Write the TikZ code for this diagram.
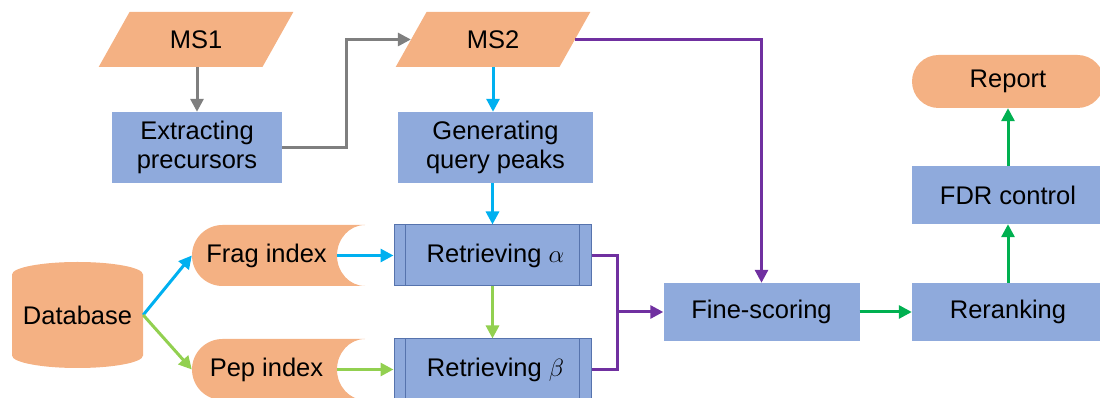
\documentclass[tikz,border=0pt]{standalone}
\usepackage{fontspec}
\setmainfont{Liberation Sans}
\usetikzlibrary{arrows.meta,shapes.geometric}
\definecolor{peach}{HTML}{F4B183}
\definecolor{boxblue}{HTML}{8FAADC}
\definecolor{edgeblue}{HTML}{5673AD}
\definecolor{cgrey}{HTML}{7F7F7F}
\definecolor{ccyan}{HTML}{00B0F0}
\definecolor{clime}{HTML}{92D050}
\definecolor{cgreen}{HTML}{00B050}
\definecolor{cpurple}{HTML}{7030A0}
\begin{document}
\begin{tikzpicture}[x=1pt,y=1pt,
  every node/.style={font=\fontsize{25.5}{29}\selectfont, inner sep=0pt, align=center},
  datashape/.style={trapezium, trapezium left angle=56, trapezium right angle=124,
    trapezium stretches=true, fill=peach, minimum width=195, minimum height=55},
  procbox/.style={fill=boxblue, minimum width=#1},
  retrbox/.style={fill=boxblue, draw=edgeblue, line width=1pt, minimum width=197, minimum height=61},
  procline/.style={draw=edgeblue, line width=1pt},
  arr/.style={line width=3pt, -{Triangle[length=13pt,width=13pt]}},
  seg/.style={line width=3pt}
]
\useasboundingbox (0,0) rectangle (1100,398);

% database cylinder silhouette
\fill[peach] (12,123.5) -- (12,42.5) arc[start angle=180,end angle=360,x radius=65.5,y radius=12.5]
  -- (143,123.5) arc[start angle=0,end angle=180,x radius=65.5,y radius=12.5] -- cycle;
% stored-data shapes (index)
\foreach \c in {142.5,28.5}
  \fill[peach] (222.5,{\c+30.5}) -- (365,{\c+30.5})
    arc[start angle=90,end angle=270,x radius=28,y radius=30.5]
    -- (222.5,{\c-30.5}) arc[start angle=270,end angle=90,radius=30.5] -- cycle;

% nodes
\node[datashape] (ms1) at (196,358.5) {MS1};
\node[datashape] (ms2) at (493,358.5) {MS2};
\node[procbox=170, minimum height=71] (ext) at (197,250.5) {Extracting\\precursors};
\node[procbox=195, minimum height=71] (gen) at (495.5,250.5) {Generating\\query peaks};
\node[minimum width=131, minimum height=106] (db) at (77.5,83) {Database};
\node[minimum width=145, minimum height=61] (frag) at (264.5,142.5) {\hspace*{4pt}Frag index};
\node[minimum width=145, minimum height=61] (pep) at (264.5,28.5) {\hspace*{4pt}Pep index};
\node[retrbox] (ra) at (492.5,142.5) {\hspace*{6pt}Retrieving $\alpha$};
\node[retrbox] (rb) at (492.5,28.5) {\hspace*{6pt}Retrieving $\beta$};
\foreach \n in {ra,rb}{
  \draw[procline] ([xshift=12pt]\n.north west) -- ([xshift=12pt]\n.south west);
  \draw[procline] ([xshift=-12pt]\n.north east) -- ([xshift=-12pt]\n.south east);
}
\node[procbox=196, minimum height=58] (fine) at (761.5,86) {Fine-scoring};
\node[procbox=192, minimum height=58] (rerank) at (1008,86) {Reranking};
\node[procbox=192, minimum height=58] (fdr) at (1008,203) {FDR control};
\node[fill=peach, rounded corners=26.5pt, minimum width=192, minimum height=53] (report) at (1008,316.5) {Report};

% connectors
\draw[arr, cgrey] (ext.north |- ms1.south) -- (ext.north);
\draw[arr, cgrey] (ext.east) -- ++(64,0) |- (ms2.west);
\draw[arr, ccyan] (ms2.south) -- (ms2.south |- gen.north);
\draw[arr, ccyan] (ra.north |- gen.south) -- (ra.north);
\draw[arr, cpurple] (ms2.east) -| (fine.north);
\draw[arr, ccyan] (db.east) -- (frag.west);
\draw[arr, clime] (db.east) -- (pep.west);
\draw[arr, ccyan] (frag.east) -- (ra.west);
\draw[arr, clime] (pep.east) -- (rb.west);
\draw[arr, clime] (ra.south) -- (rb.north);
\coordinate (j) at (617,86);
\draw[seg, cpurple] (ra.east) -| (j) |- (rb.east);
\draw[arr, cpurple] (j) -- (fine.west);
\draw[arr, cgreen] (fine.east) -- (rerank.west);
\draw[arr, cgreen] (rerank.north) -- (fdr.south);
\draw[arr, cgreen] (fdr.north) -- (report.south);
\end{tikzpicture}
\end{document}
